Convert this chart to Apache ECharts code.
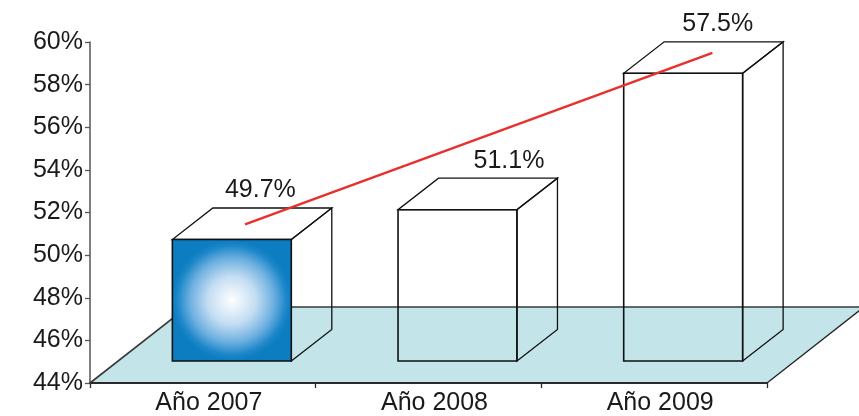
<!DOCTYPE html>
<html>
<head>
<meta charset="utf-8">
<title>Evolución 2007–2009</title>
<script src="https://cdn.jsdelivr.net/npm/echarts@6/dist/echarts.min.js"></script>
<style>
  html, body { margin: 0; padding: 0; background: #ffffff; }
  #chart { width: 859px; height: 416px; }
</style>
</head>
<body>
<div id="chart"></div>
<script>
// Categories and yearly values (percent)
const categories = ['Año 2007', 'Año 2008', 'Año 2009'];
const values = [49.7, 51.1, 57.5];
const valueLabels = ['49.7%', '51.1%', '57.5%'];

// Y axis range and ticks (percent)
const yMin = 44;
const yMax = 60;
const yStep = 2;

// Trend line end points: [position along the category band (0..3), percent]
const trendX = [0.687, 2.758];
const trendY = [51.44, 59.49];

// ---- drawing constants ----
const FONT = '"Liberation Sans", Arial, sans-serif';
const TEXT_COLOR = '#1a1a1a';
const EDGE = '#111111';
const FLOOR_FILL = '#c3e5e9';
const FLOOR_DEPTH = [97, 76];      // floor depth vector (px right, px up)
const FRONT_SHIFT = [29, 22];      // bar front face shift into the floor
const BOX_DEPTH = [40.5, 31.5];    // bar depth vector
const BAR_RATIO = 0.527;           // bar width relative to category band
const HIGHLIGHT = 0;               // bar whose front face is shaded
const LABEL_NUDGE = [-12, 11, -6]; // horizontal tweak of each value label (px)

const shadedFace = {
  type: 'radial', x: 0.5, y: 0.5, r: 0.5,
  colorStops: [
    { offset: 0, color: '#ffffff' },
    { offset: 0.4, color: '#c3ddf2' },
    { offset: 0.7, color: '#6cafe0' },
    { offset: 0.9, color: '#1d87c9' },
    { offset: 1, color: '#0b7dc0' }
  ]
};

function renderFloor(params, api) {
  const cs = params.coordSys;
  const x0 = cs.x, x1 = cs.x + cs.width, y0 = cs.y + cs.height;
  const dx = FLOOR_DEPTH[0], dy = FLOOR_DEPTH[1];
  return {
    type: 'group',
    children: [
      {
        type: 'polygon',
        shape: { points: [[x0, y0], [x1, y0], [x1 + dx, y0 - dy], [x0 + dx, y0 - dy]] },
        style: { fill: FLOOR_FILL, stroke: null }
      },
      {
        type: 'polyline',
        shape: { points: [[x0, y0], [x0 + dx, y0 - dy], [x1 + dx, y0 - dy]] },
        style: { fill: null, stroke: '#3a3a3a', lineWidth: 1.6 }
      },
      {
        type: 'line',
        shape: { x1: x1, y1: y0, x2: x1 + dx, y2: y0 - dy },
        style: { stroke: '#222222', lineWidth: 1.3 }
      }
    ]
  };
}

function renderBar(params, api) {
  const i = api.value(0);
  const v = api.value(1);
  const base = api.coord([i, yMin]);
  const top = api.coord([i, v]);
  const bw = api.size([1, 0])[0] * BAR_RATIO;
  const x0 = base[0] - bw / 2 + FRONT_SHIFT[0];
  const x1 = base[0] + bw / 2 + FRONT_SHIFT[0];
  const yb = base[1] - FRONT_SHIFT[1];
  const yt = top[1] - FRONT_SHIFT[1];
  const dx = BOX_DEPTH[0], dy = BOX_DEPTH[1];
  const edge = { stroke: EDGE, lineWidth: 1.3 };
  return {
    type: 'group',
    children: [
      {
        type: 'polygon',
        shape: { points: [[x1, yb], [x1 + dx, yb - dy], [x1 + dx, yt - dy], [x1, yt]] },
        style: Object.assign({ fill: null }, edge)
      },
      {
        type: 'polygon',
        shape: { points: [[x0, yt], [x1, yt], [x1 + dx, yt - dy], [x0 + dx, yt - dy]] },
        style: Object.assign({ fill: null }, edge)
      },
      {
        type: 'rect',
        shape: { x: x0, y: yt, width: x1 - x0, height: yb - yt },
        style: Object.assign({ fill: i === HIGHLIGHT ? shadedFace : null }, edge, { lineWidth: 1.6 })
      },
      {
        type: 'text',
        style: {
          text: valueLabels[i],
          x: (x0 + x1) / 2 + dx + LABEL_NUDGE[i],
          y: yt - dy - 5,
          align: 'center',
          verticalAlign: 'bottom',
          fill: TEXT_COLOR,
          font: '25px ' + FONT
        }
      }
    ]
  };
}

const barData = values.map((v, i) => [i, v]);
const trendData = trendX.map((x, k) => [x, trendY[k]]);

const chart = echarts.init(document.getElementById('chart'), null, { renderer: 'canvas' });
chart.setOption({
  backgroundColor: '#ffffff',
  animation: false,
  textStyle: { fontFamily: FONT },
  grid: { left: 90, right: 92, top: 42, bottom: 33, containLabel: false },
  xAxis: [
    {
      type: 'category',
      data: categories,
      boundaryGap: true,
      z: 5,
      axisLine: { lineStyle: { color: '#2a2a2a', width: 2 } },
      axisTick: { show: true, length: 5, lineStyle: { color: '#2a2a2a', width: 1.3 } },
      axisLabel: { color: TEXT_COLOR, fontSize: 25, margin: 8, padding: [0, 0, 0, 12], fontFamily: FONT }
    },
    { type: 'value', min: 0, max: 3, show: false }
  ],
  yAxis: {
    type: 'value',
    min: yMin,
    max: yMax,
    interval: yStep,
    z: 5,
    axisLine: { show: true, lineStyle: { color: '#555555', width: 1.5 } },
    axisTick: { show: true, length: 5, lineStyle: { color: '#555555', width: 1.3 } },
    splitLine: { show: false },
    axisLabel: { color: TEXT_COLOR, fontSize: 25, margin: 7, formatter: '{value}%', fontFamily: FONT }
  },
  series: [
    {
      type: 'custom',
      name: 'floor',
      xAxisIndex: 0,
      renderItem: renderFloor,
      data: [[0, yMin]],
      z: 1,
      silent: true
    },
    {
      type: 'custom',
      name: 'bars',
      xAxisIndex: 0,
      renderItem: renderBar,
      encode: { x: 0, y: 1 },
      data: barData,
      z: 3
    },
    {
      type: 'line',
      name: 'tendencia',
      xAxisIndex: 1,
      data: trendData,
      showSymbol: false,
      symbol: 'none',
      lineStyle: { color: '#e8302c', width: 2.5 },
      z: 6
    }
  ]
});
</script>
</body>
</html>
